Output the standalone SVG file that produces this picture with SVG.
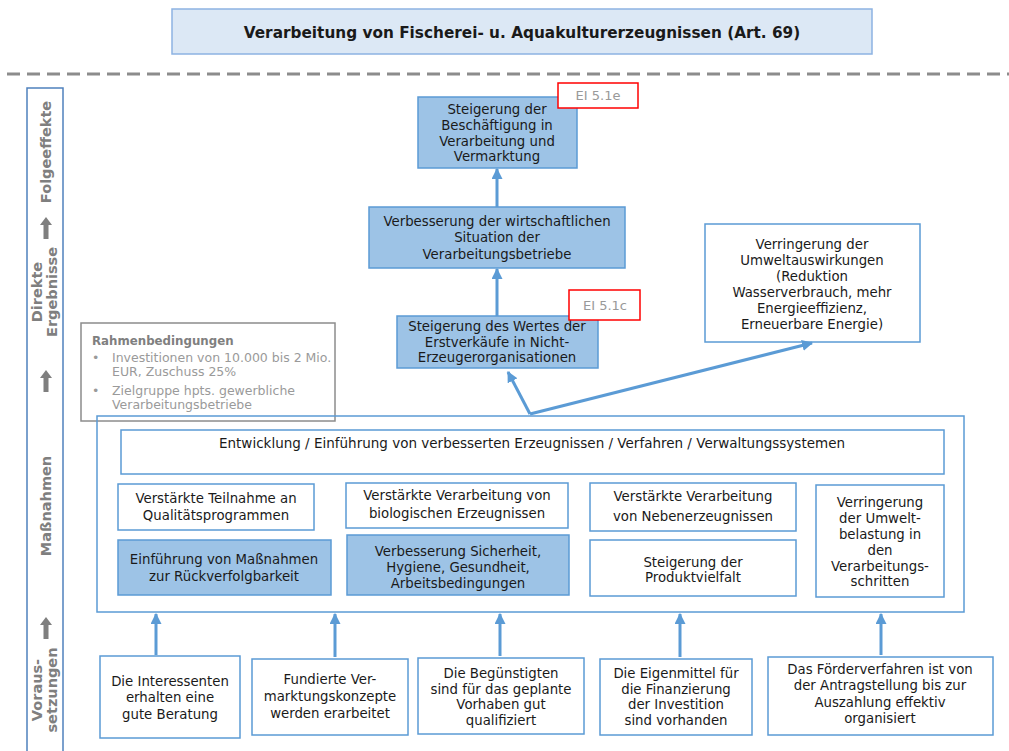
<svg xmlns="http://www.w3.org/2000/svg" width="1009" height="751" viewBox="0 0 1009 751">
  <defs>
    <marker id="ah" viewBox="0 0 10 10" refX="9" refY="5" markerWidth="11" markerHeight="11" markerUnits="userSpaceOnUse" orient="auto">
      <path d="M0,0 L10,5 L0,10 z" fill="#5b9bd5"/>
    </marker>
  </defs>
  <style>
    text { font-family: "DejaVu Sans", Verdana, sans-serif; font-size: 13.3px; fill: #1a1a1a; text-anchor: middle; }
    .blue { fill: #9dc3e6; stroke: #5b9bd5; stroke-width: 1.5; }
    .white { fill: #ffffff; stroke: #5b9bd5; stroke-width: 1.5; }
    .ei { fill: #ffffff; stroke: #ff0000; stroke-width: 1.5; }
    .eitxt { fill: #999999; font-size: 13px; }
    .side { fill: #7f7f7f; font-weight: bold; font-size: 14.5px; }
    .conn { stroke: #5b9bd5; stroke-width: 3; fill: none; marker-end: url(#ah); }
    .small { font-size: 12.5px; fill: #9a9a9a; text-anchor: start; }
  </style>

  <!-- title -->
  <g id="title">
    <rect x="172" y="9" width="700" height="45" fill="#dce8f5" stroke="#8db3e2" stroke-width="1.5"/>
    <text x="522" y="38" style="font-weight:bold;font-size:15.3px">Verarbeitung von Fischerei- u. Aquakulturerzeugnissen (Art. 69)</text>
  </g>

  <!-- separator -->
  <line x1="7" y1="74" x2="1009" y2="74" stroke="#8c8c8c" stroke-width="3" stroke-dasharray="13 7"/>

  <!-- side column -->
  <g id="side">
    <rect x="27" y="88" width="36" height="670" fill="#ffffff" stroke="#4f81bd" stroke-width="1.5"/>
    <text class="side" transform="translate(51,152) rotate(-90)">Folgeeffekte</text>
    <text class="side" transform="translate(42,292) rotate(-90)">Direkte</text>
    <text class="side" transform="translate(57,292) rotate(-90)">Ergebnisse</text>
    <text class="side" transform="translate(51,506) rotate(-90)">Maßnahmen</text>
    <text class="side" transform="translate(42,690) rotate(-90)">Voraus-</text>
    <text class="side" transform="translate(57,690) rotate(-90)">setzungen</text>
    <path d="M46,217 L52,225 L48.5,225 L48.5,239 L43.5,239 L43.5,225 L40,225 z" fill="#7f7f7f"/>
    <path d="M46,370 L52,378 L48.5,378 L48.5,392 L43.5,392 L43.5,378 L40,378 z" fill="#7f7f7f"/>
    <path d="M46,617 L52,625 L48.5,625 L48.5,639 L43.5,639 L43.5,625 L40,625 z" fill="#7f7f7f"/>
  </g>

  <!-- Folgeeffekte -->
  <g id="n-beschaeftigung">
    <rect class="blue" x="418" y="97" width="159" height="71"/>
    <text x="497" y="114">Steigerung der</text>
    <text x="497" y="130">Beschäftigung in</text>
    <text x="497" y="146">Verarbeitung und</text>
    <text x="497" y="161">Vermarktung</text>
  </g>
  <g id="ei-51e">
    <rect class="ei" x="558" y="83" width="80" height="25"/>
    <text class="eitxt" x="598" y="100">EI 5.1e</text>
  </g>
  <g id="n-situation">
    <rect class="blue" x="369" y="207" width="256" height="61"/>
    <text x="497" y="226">Verbesserung der wirtschaftlichen</text>
    <text x="497" y="242">Situation der</text>
    <text x="497" y="259">Verarbeitungsbetriebe</text>
  </g>

  <!-- Direkte Ergebnisse -->
  <g id="n-erstverkaeufe">
    <rect class="blue" x="397" y="316" width="201" height="52"/>
    <text x="497" y="331">Steigerung des Wertes der</text>
    <text x="497" y="347">Erstverkäufe in Nicht-</text>
    <text x="497" y="362">Erzeugerorganisationen</text>
  </g>
  <g id="ei-51c">
    <rect class="ei" x="569" y="290" width="71" height="30"/>
    <text class="eitxt" x="605" y="310">EI 5.1c</text>
  </g>
  <g id="n-umwelt">
    <rect class="white" x="705" y="224" width="215" height="118"/>
    <text x="812" y="249">Verringerung der</text>
    <text x="812" y="265">Umweltauswirkungen</text>
    <text x="812" y="281">(Reduktion</text>
    <text x="812" y="297">Wasserverbrauch, mehr</text>
    <text x="812" y="313">Energieeffizienz,</text>
    <text x="812" y="329">Erneuerbare Energie)</text>
  </g>

  <!-- Rahmenbedingungen -->
  <g id="rahmen">
    <rect x="81" y="323" width="254" height="98" fill="#ffffff" stroke="#8c8c8c" stroke-width="1.5"/>
    <text class="small" x="92" y="345" style="font-weight:bold;fill:#7f7f7f;font-size:11.8px">Rahmenbedingungen</text>
    <text class="small" x="92" y="362">•</text>
    <text class="small" x="112" y="362">Investitionen von 10.000 bis 2 Mio.</text>
    <text class="small" x="112" y="376">EUR, Zuschuss 25%</text>
    <text class="small" x="92" y="395">•</text>
    <text class="small" x="112" y="395">Zielgruppe hpts. gewerbliche</text>
    <text class="small" x="112" y="409">Verarbeitungsbetriebe</text>
  </g>

  <!-- Maßnahmen -->
  <g id="massnahmen">
    <rect x="97" y="416" width="867" height="196" fill="none" stroke="#5b9bd5" stroke-width="1.5"/>
  </g>
  <g id="m-entwicklung">
    <rect class="white" x="121" y="430" width="823" height="44"/>
    <text x="532" y="448" style="font-size:13.5px">Entwicklung / Einführung von verbesserten Erzeugnissen / Verfahren / Verwaltungssystemen</text>
  </g>
  <g id="m-qualitaet">
    <rect class="white" x="118" y="484" width="196" height="46"/>
    <text x="216" y="503">Verstärkte Teilnahme an</text>
    <text x="216" y="520">Qualitätsprogrammen</text>
  </g>
  <g id="m-bio">
    <rect class="white" x="346" y="483" width="222" height="45"/>
    <text x="457" y="500">Verstärkte Verarbeitung von</text>
    <text x="457" y="518">biologischen Erzeugnissen</text>
  </g>
  <g id="m-neben">
    <rect class="white" x="590" y="483" width="206" height="48"/>
    <text x="693" y="501">Verstärkte Verarbeitung</text>
    <text x="693" y="521">von Nebenerzeugnissen</text>
  </g>
  <g id="m-umweltbelastung">
    <rect class="white" x="816" y="485" width="128" height="112"/>
    <text x="880" y="507">Verringerung</text>
    <text x="880" y="523">der Umwelt-</text>
    <text x="880" y="539">belastung in</text>
    <text x="880" y="555">den</text>
    <text x="880" y="571">Verarbeitungs-</text>
    <text x="880" y="586">schritten</text>
  </g>
  <g id="m-rueckverfolgbarkeit">
    <rect class="blue" x="118" y="540" width="213" height="55"/>
    <text x="224" y="564">Einführung von Maßnahmen</text>
    <text x="224" y="581">zur Rückverfolgbarkeit</text>
  </g>
  <g id="m-sicherheit">
    <rect class="blue" x="347" y="535" width="222" height="60"/>
    <text x="458" y="556">Verbesserung Sicherheit,</text>
    <text x="458" y="572">Hygiene, Gesundheit,</text>
    <text x="458" y="588">Arbeitsbedingungen</text>
  </g>
  <g id="m-vielfalt">
    <rect class="white" x="590" y="540" width="206" height="56"/>
    <text x="693" y="567">Steigerung der</text>
    <text x="693" y="582">Produktvielfalt</text>
  </g>

  <!-- Voraussetzungen -->
  <g id="v-beratung">
    <rect class="white" x="100" y="656" width="140" height="82"/>
    <text x="170" y="686">Die Interessenten</text>
    <text x="170" y="702">erhalten eine</text>
    <text x="170" y="719">gute Beratung</text>
  </g>
  <g id="v-konzepte">
    <rect class="white" x="252" y="659" width="156" height="76"/>
    <text x="330" y="684">Fundierte Ver-</text>
    <text x="330" y="701">marktungskonzepte</text>
    <text x="330" y="718">werden erarbeitet</text>
  </g>
  <g id="v-qualifiziert">
    <rect class="white" x="418" y="658" width="166" height="76"/>
    <text x="501" y="678">Die Begünstigten</text>
    <text x="501" y="694">sind für das geplante</text>
    <text x="501" y="709">Vorhaben gut</text>
    <text x="501" y="725">qualifiziert</text>
  </g>
  <g id="v-eigenmittel">
    <rect class="white" x="600" y="659" width="152" height="76"/>
    <text x="676" y="678">Die Eigenmittel für</text>
    <text x="676" y="694">die Finanzierung</text>
    <text x="676" y="709">der Investition</text>
    <text x="676" y="725">sind vorhanden</text>
  </g>
  <g id="v-foerderverfahren">
    <rect class="white" x="768" y="657" width="225" height="78"/>
    <text x="880" y="674">Das Förderverfahren ist von</text>
    <text x="880" y="690">der Antragstellung bis zur</text>
    <text x="880" y="707">Auszahlung effektiv</text>
    <text x="880" y="723">organisiert</text>
  </g>

  <!-- connectors -->
  <g id="connectors">
    <line class="conn" x1="497" y1="207" x2="497" y2="169"/>
    <line class="conn" x1="497" y1="316" x2="497" y2="269"/>
    <line class="conn" x1="530" y1="414" x2="508" y2="372"/>
    <line class="conn" x1="530" y1="414" x2="812" y2="343"/>
    <line class="conn" x1="156" y1="655" x2="156" y2="614"/>
    <line class="conn" x1="335" y1="657" x2="335" y2="614"/>
    <line class="conn" x1="500" y1="656" x2="500" y2="614"/>
    <line class="conn" x1="680" y1="657" x2="680" y2="614"/>
    <line class="conn" x1="881" y1="655" x2="881" y2="614"/>
  </g>
</svg>
